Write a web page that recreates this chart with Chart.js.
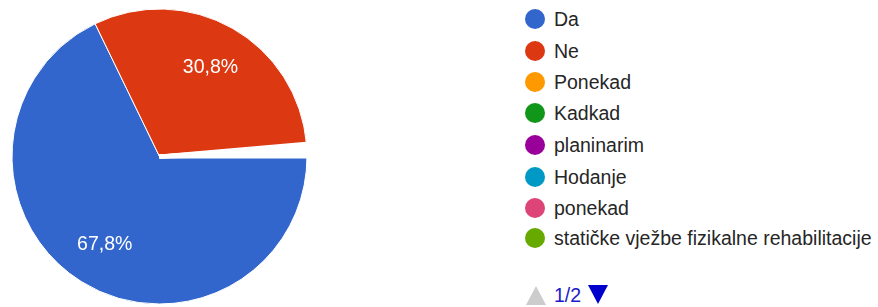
<!DOCTYPE html>
<html>
<head>
<meta charset="utf-8">
<script src="https://cdn.jsdelivr.net/npm/chart.js@4/dist/chart.umd.min.js"></script>
<style>
  html, body { margin: 0; padding: 0; background: #fff; }
  body { width: 878px; height: 307px; position: relative; overflow: hidden; font-family: "Liberation Sans", Arial, sans-serif; }
  #wrap { position: absolute; left: 0; top: 0; width: 320px; height: 307px; }
  #legend { position: absolute; left: 525px; top: 0; }
  .item { position: absolute; left: 0; white-space: nowrap; height: 22px; }
  .dot { position: absolute; left: 0; top: 0; width: 20px; height: 20px; border-radius: 50%; }
  .lbl { position: absolute; left: 29px; top: -1px; line-height: 22px; font-size: 19.5px; color: #262626; }
  #pager { position: absolute; left: 525px; top: 284px; height: 22px; font-size: 19.5px; color: #1a1acc; white-space: nowrap; }
  .up { position: absolute; left: 1px; top: 2px; width: 0; height: 0; border-left: 10px solid transparent; border-right: 10px solid transparent; border-bottom: 19px solid #cccccc; }
  .pg { position: absolute; left: 29px; top: 0; line-height: 22px; }
  .down { position: absolute; left: 63px; top: 1px; width: 0; height: 0; border-left: 10px solid transparent; border-right: 10px solid transparent; border-top: 19px solid #0000cc; }
</style>
</head>
<body>
<div id="wrap"><canvas id="c" width="320" height="307"></canvas></div>
<div id="legend"></div>
<div id="pager"><div class="up"></div><div class="pg">1/2</div><div class="down"></div></div>
<script>
const categories = ["Da", "Ne", "Ponekad", "Kadkad", "planinarim", "Hodanje", "ponekad", "statičke vježbe fizikalne rehabilitacije"];
const values = [67.8, 30.8, 0.23, 0.23, 0.23, 0.23, 0.23, 0.23];
const colors = ["#3366cc", "#dc3912", "#ff9900", "#109618", "#990099", "#0099c6", "#dd4477", "#66aa00"];
const legendRowTops = [9, 41, 72, 103, 135, 167, 198, 228];

const legend = document.getElementById('legend');
categories.forEach((name, i) => {
  const it = document.createElement('div');
  it.className = 'item';
  it.style.top = legendRowTops[i] + 'px';
  const d = document.createElement('div');
  d.className = 'dot';
  d.style.background = colors[i];
  const l = document.createElement('div');
  l.className = 'lbl';
  l.textContent = name;
  it.appendChild(d); it.appendChild(l);
  legend.appendChild(it);
});

const pctLabels = {
  id: 'pctLabels',
  afterDatasetsDraw(chart) {
    const ctx = chart.ctx;
    const meta = chart.getDatasetMeta(0);
    const total = values.reduce((a, b) => a + b, 0);
    ctx.save();
    ctx.fillStyle = '#ffffff';
    ctx.font = '19.5px "Liberation Sans", Arial, sans-serif';
    ctx.textAlign = 'center';
    ctx.textBaseline = 'middle';
    meta.data.forEach((arc, i) => {
      const pct = values[i] / total * 100;
      if (pct < 5) return;
      const p = arc.getProps(['startAngle', 'endAngle', 'outerRadius', 'x', 'y'], true);
      const mid = (p.startAngle + p.endAngle) / 2;
      const r = p.outerRadius * 0.7;
      ctx.fillText(pct.toFixed(1).replace('.', ',') + '%', p.x + Math.cos(mid) * r, p.y + Math.sin(mid) * r + 1);
    });
    ctx.restore();
  }
};

new Chart(document.getElementById('c'), {
  type: 'pie',
  data: {
    labels: categories,
    datasets: [{
      data: values,
      backgroundColor: colors,
      borderColor: '#ffffff',
      borderWidth: values.map(v => v < 1 ? 4 : 1)
    }]
  },
  options: {
    responsive: false,
    animation: false,
    rotation: 90,
    layout: { padding: { left: 10, right: 11, top: 7, bottom: 1 } },
    plugins: { legend: { display: false }, tooltip: { enabled: false } }
  },
  plugins: [pctLabels]
});
</script>
</body>
</html>
